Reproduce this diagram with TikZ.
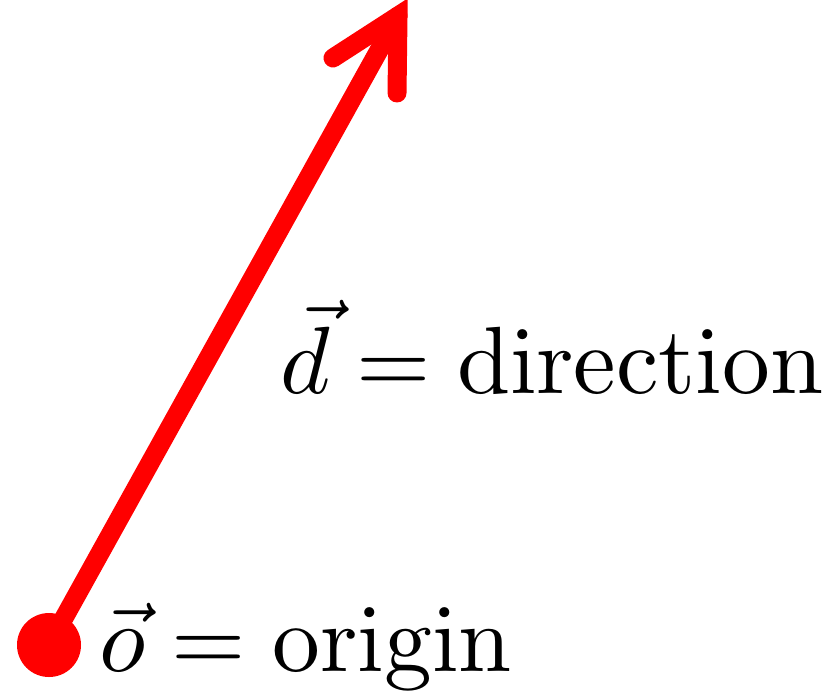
\documentclass[tikz,border=0pt]{standalone}
\begin{document}
\begin{tikzpicture}[x=0.1062pt,y=-0.1062pt,
  vec/.style={draw=red,line width=19*0.1062pt,line cap=round,line join=miter,miter limit=10},
  lbl/.style={anchor=base west,inner sep=0pt,outer sep=0pt,scale=1.015,transform shape}]
\useasboundingbox (0,0) rectangle (831,693);
\coordinate (o) at (49,645);
\coordinate (t) at (398,16);
\coordinate (bl) at (333,58);
\coordinate (br) at (397,93);
\fill[red] (o) circle[radius=32];
\draw[vec] (o) -- (t);
\draw[vec] (bl) -- (t) -- (br);
\node[lbl] (ol) at (99,671) {$\vec{o} = \mathrm{origin}$};
\node[lbl] (dl) at (280,394) {$\vec{d} = \mathrm{direction}$};
\end{tikzpicture}
\end{document}
